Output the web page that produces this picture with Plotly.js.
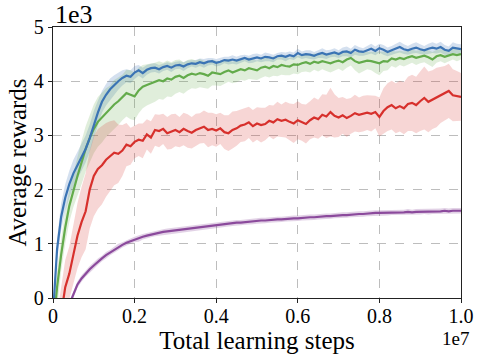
<!DOCTYPE html>
<html>
<head>
<meta charset="utf-8">
<script src="https://cdn.plot.ly/plotly-3.0.1.min.js"></script>
<style>
  html, body { margin: 0; padding: 0; background: #fff; }
  #chart { width: 483px; height: 361px; }
</style>
</head>
<body>
<div id="chart"></div>
<script>
// training steps, in units of 1e7
const steps = [];
for (let i = 0; i <= 100; i++) steps.push(i / 100);

// average rewards, in units of 1e3 (mean and half-width of shaded band)
const blueMean = [
  -0.3, 0.9, 1.5, 1.85, 2.1, 2.3, 2.45, 2.6, 2.75, 2.95,
  3.2, 3.42, 3.62, 3.75, 3.85, 3.93, 4.0, 4.06, 4.1, 4.08,
  4.16, 4.2, 4.15, 4.21, 4.24, 4.25, 4.22, 4.26, 4.28, 4.25,
  4.29, 4.3, 4.27, 4.31, 4.33, 4.32, 4.35, 4.33, 4.36, 4.37,
  4.34, 4.36, 4.39, 4.38, 4.4, 4.38, 4.41, 4.43, 4.4, 4.42,
  4.44, 4.42, 4.45, 4.44, 4.42, 4.46, 4.47, 4.45, 4.48, 4.46,
  4.52, 4.48, 4.5, 4.49, 4.47, 4.5, 4.52, 4.49, 4.51, 4.53,
  4.5, 4.54, 4.55, 4.52, 4.58, 4.55, 4.54, 4.57, 4.6, 4.56,
  4.61, 4.58, 4.54, 4.57, 4.6, 4.63, 4.59, 4.57, 4.6, 4.62,
  4.59, 4.57, 4.6, 4.62, 4.6, 4.63, 4.58, 4.56, 4.62, 4.6,
  4.59
];
const blueSpread = [
  0.1, 0.2, 0.25, 0.25, 0.25, 0.25, 0.25, 0.25, 0.25, 0.25,
  0.25, 0.22, 0.2, 0.2, 0.2, 0.18, 0.16, 0.14, 0.12, 0.12,
  0.12, 0.1, 0.1, 0.09, 0.08, 0.08, 0.08, 0.07, 0.07, 0.08,
  0.07, 0.07, 0.08, 0.07, 0.06, 0.07, 0.07, 0.08, 0.07, 0.06,
  0.07, 0.07, 0.06, 0.07, 0.08, 0.07, 0.07, 0.06, 0.07, 0.08,
  0.07, 0.07, 0.08, 0.07, 0.07, 0.06, 0.07, 0.08, 0.07, 0.07,
  0.08, 0.07, 0.07, 0.08, 0.07, 0.07, 0.09, 0.08, 0.07, 0.08,
  0.07, 0.08, 0.09, 0.08, 0.09, 0.08, 0.07, 0.08, 0.09, 0.08,
  0.08, 0.09, 0.08, 0.08, 0.09, 0.1, 0.09, 0.08, 0.09, 0.1,
  0.09, 0.08, 0.09, 0.1, 0.09, 0.1, 0.09, 0.08, 0.1, 0.09,
  0.09
];

const greenMean = [
  -0.6, 0.2, 0.8, 1.3, 1.7, 2.0, 2.25, 2.5, 2.75, 2.95,
  3.12, 3.25, 3.33, 3.42, 3.48, 3.57, 3.63, 3.7, 3.78, 3.75,
  3.72, 3.83, 3.9, 3.93, 3.96, 3.98, 4.02, 4.0, 4.05, 4.03,
  4.08, 4.1, 4.06, 4.11, 4.14, 4.12, 4.15, 4.13, 4.1, 4.16,
  4.15, 4.13, 4.17, 4.2, 4.16, 4.19, 4.22, 4.2, 4.24, 4.22,
  4.2, 4.25, 4.27, 4.24, 4.28, 4.26, 4.3, 4.28, 4.27, 4.31,
  4.3, 4.33, 4.35, 4.32, 4.36, 4.34, 4.37, 4.35, 4.33, 4.36,
  4.38, 4.35, 4.4, 4.43, 4.37, 4.34, 4.36, 4.38, 4.37, 4.35,
  4.33, 4.37, 4.36, 4.42, 4.4, 4.43, 4.41, 4.44, 4.46, 4.43,
  4.45, 4.47, 4.44, 4.4, 4.46, 4.48, 4.45, 4.47, 4.5, 4.48,
  4.5
];
const greenSpread = [
  0.3, 0.3, 0.3, 0.3, 0.3, 0.32, 0.36, 0.4, 0.42, 0.44,
  0.45, 0.46, 0.46, 0.45, 0.44, 0.45, 0.44, 0.42, 0.43, 0.45,
  0.44, 0.42, 0.4, 0.38, 0.37, 0.36, 0.35, 0.34, 0.33, 0.32,
  0.31, 0.3, 0.29, 0.28, 0.27, 0.26, 0.26, 0.25, 0.24, 0.24,
  0.23, 0.22, 0.22, 0.21, 0.2, 0.21, 0.2, 0.19, 0.2, 0.19,
  0.18, 0.19, 0.18, 0.17, 0.18, 0.17, 0.18, 0.17, 0.16, 0.17,
  0.17, 0.16, 0.17, 0.16, 0.15, 0.16, 0.15, 0.16, 0.17, 0.16,
  0.15, 0.16, 0.15, 0.14, 0.17, 0.2, 0.18, 0.16, 0.17, 0.2,
  0.22, 0.18, 0.16, 0.14, 0.15, 0.13, 0.14, 0.13, 0.12, 0.13,
  0.12, 0.12, 0.13, 0.14, 0.12, 0.11, 0.12, 0.11, 0.1, 0.11,
  0.1
];

const redMean = [
  -1.2, -0.8, -0.3, 0.2, 0.45, 0.8, 1.15, 1.4, 1.6, 2.0,
  2.25, 2.38, 2.45, 2.55, 2.62, 2.68, 2.66, 2.72, 2.83, 2.8,
  2.88, 2.92, 2.9, 3.02, 2.96, 3.1, 3.08, 3.12, 3.04, 3.07,
  3.1, 3.06, 3.12, 3.08, 3.05, 3.1, 3.13, 3.16, 3.1, 3.12,
  3.09, 3.13, 3.06, 3.04, 3.1, 3.13, 3.18, 3.2, 3.24, 3.17,
  3.22, 3.19, 3.21, 3.27, 3.24, 3.3, 3.27, 3.29, 3.25, 3.22,
  3.28, 3.24, 3.21, 3.28, 3.33, 3.3, 3.38, 3.35, 3.43, 3.36,
  3.33, 3.37, 3.32, 3.36, 3.41, 3.38, 3.4, 3.42, 3.4, 3.43,
  3.34, 3.45, 3.52, 3.56, 3.5, 3.54, 3.5, 3.58, 3.6, 3.56,
  3.63, 3.69, 3.62, 3.66, 3.7, 3.75, 3.78, 3.82, 3.74, 3.73,
  3.71
];
const redSpread = [
  0.5, 0.5, 0.5, 0.5, 0.5, 0.55, 0.6, 0.65, 0.7, 0.72,
  0.74, 0.74, 0.72, 0.68, 0.64, 0.6, 0.54, 0.47, 0.4, 0.34,
  0.3, 0.3, 0.32, 0.28, 0.3, 0.29, 0.3, 0.28, 0.3, 0.32,
  0.3, 0.28, 0.3, 0.31, 0.29, 0.3, 0.28, 0.3, 0.32, 0.3,
  0.3, 0.29, 0.31, 0.33, 0.34, 0.32, 0.3, 0.31, 0.29, 0.3,
  0.3, 0.32, 0.3, 0.29, 0.31, 0.32, 0.3, 0.33, 0.34, 0.36,
  0.35, 0.34, 0.36, 0.35, 0.37, 0.36, 0.38, 0.4, 0.45, 0.4,
  0.36, 0.34, 0.35, 0.33, 0.34, 0.32, 0.33, 0.32, 0.33, 0.3,
  0.36, 0.42, 0.44, 0.45, 0.46, 0.47, 0.48, 0.5, 0.52, 0.52,
  0.55, 0.58, 0.56, 0.54, 0.55, 0.52, 0.5, 0.5, 0.48, 0.46,
  0.44
];

const purpleMean = [
  -1.2, -0.9, -0.6, -0.35, -0.12, 0.07, 0.25, 0.36, 0.45, 0.53,
  0.6, 0.67, 0.73, 0.79, 0.84, 0.89, 0.94, 0.98, 1.02, 1.05,
  1.08, 1.1, 1.13, 1.15, 1.17, 1.19, 1.2, 1.22, 1.23, 1.24,
  1.25, 1.26, 1.27, 1.28, 1.29, 1.3, 1.31, 1.32, 1.33, 1.34,
  1.35, 1.36, 1.36, 1.37, 1.38, 1.39, 1.39, 1.4, 1.41, 1.41,
  1.42, 1.43, 1.43, 1.44, 1.44, 1.45, 1.45, 1.46, 1.46, 1.47,
  1.47, 1.48, 1.48, 1.49, 1.49, 1.5, 1.5, 1.51, 1.51, 1.52,
  1.52, 1.53, 1.53, 1.54, 1.54, 1.55, 1.55, 1.56, 1.56, 1.57,
  1.57, 1.57, 1.57, 1.58, 1.58, 1.58, 1.58, 1.59, 1.58, 1.59,
  1.59, 1.6, 1.59, 1.6, 1.6, 1.6, 1.61, 1.6, 1.61, 1.61,
  1.61
];
const purpleSpread = [
  0.06, 0.06, 0.06, 0.06, 0.06, 0.06, 0.06, 0.06, 0.06, 0.06,
  0.06, 0.06, 0.05, 0.06, 0.05, 0.05, 0.06, 0.05, 0.05, 0.05,
  0.05, 0.06, 0.05, 0.05, 0.05, 0.05, 0.05, 0.05, 0.05, 0.05,
  0.05, 0.05, 0.05, 0.05, 0.05, 0.05, 0.05, 0.05, 0.05, 0.05,
  0.05, 0.05, 0.05, 0.05, 0.05, 0.05, 0.05, 0.05, 0.05, 0.05,
  0.05, 0.05, 0.05, 0.05, 0.05, 0.05, 0.05, 0.05, 0.05, 0.05,
  0.05, 0.05, 0.05, 0.05, 0.05, 0.05, 0.05, 0.05, 0.05, 0.05,
  0.05, 0.05, 0.05, 0.05, 0.05, 0.05, 0.05, 0.05, 0.05, 0.05,
  0.05, 0.05, 0.05, 0.05, 0.05, 0.05, 0.05, 0.05, 0.05, 0.05,
  0.05, 0.05, 0.05, 0.05, 0.05, 0.05, 0.05, 0.05, 0.05, 0.05,
  0.05
];

const series = [
  { mean: blueMean, spread: blueSpread, color: '#3b74b4', fill: 'rgba(59,116,180,0.22)' },
  { mean: greenMean, spread: greenSpread, color: '#63ab4b', fill: 'rgba(99,171,75,0.2)' },
  { mean: redMean, spread: redSpread, color: '#d7302c', fill: 'rgba(215,48,44,0.2)' },
  { mean: purpleMean, spread: purpleSpread, color: '#8b4a9c', fill: 'rgba(139,74,156,0.25)' }
];

function band(s) {
  const upper = s.mean.map((m, i) => m + s.spread[i]);
  const lower = s.mean.map((m, i) => m - s.spread[i]);
  return {
    x: steps.concat(steps.slice().reverse()),
    y: upper.concat(lower.reverse()),
    type: 'scatter',
    mode: 'lines',
    fill: 'toself',
    fillcolor: s.fill,
    line: { width: 0 },
    hoverinfo: 'skip',
    showlegend: false
  };
}

function meanLine(s) {
  return {
    x: steps,
    y: s.mean,
    type: 'scatter',
    mode: 'lines',
    line: { color: s.color, width: 2.2 },
    showlegend: false
  };
}

const traces = [];
series.forEach(s => traces.push(band(s)));
series.slice().reverse().forEach(s => traces.push(meanLine(s)));

const serif = '"Liberation Serif", serif';

const layout = {
  width: 483,
  height: 361,
  margin: { l: 53, r: 22, t: 27, b: 63 },
  paper_bgcolor: '#fff',
  plot_bgcolor: '#fff',
  showlegend: false,
  font: { family: serif, color: '#000' },
  xaxis: {
    range: [0, 1],
    tickvals: [0, 0.2, 0.4, 0.6, 0.8, 1.0],
    ticktext: ['0', '0.2', '0.4', '0.6', '0.8', '1.0'],
    tickfont: { size: 20, family: serif },
    ticks: 'outside',
    ticklen: 4,
    tickcolor: '#222',
    ticklabelstandoff: -4,
    showline: true,
    linecolor: '#222',
    linewidth: 1.2,
    mirror: true,
    showgrid: true,
    gridcolor: '#bdbdbd',
    griddash: 'dash',
    gridwidth: 1,
    zeroline: false,
    title: { text: 'Total learning steps', font: { size: 25, family: serif }, standoff: 0 }
  },
  yaxis: {
    range: [0, 5],
    tickvals: [0, 1, 2, 3, 4, 5],
    tickfont: { size: 20, family: serif },
    ticks: 'outside',
    ticklen: 4,
    tickcolor: '#222',
    showline: true,
    linecolor: '#222',
    linewidth: 1.2,
    mirror: true,
    showgrid: true,
    gridcolor: '#bdbdbd',
    griddash: 'dash',
    gridwidth: 1,
    zeroline: false,
    title: { text: 'Average rewards', font: { size: 25, family: serif }, standoff: 0 }
  },
  annotations: [
    { text: '1e3', xref: 'paper', yref: 'paper', x: 0, y: 1, xanchor: 'left', yanchor: 'bottom',
      showarrow: false, font: { size: 26, family: serif }, yshift: -4 },
    { text: '1e7', xref: 'paper', yref: 'paper', x: 1.025, y: 0, xanchor: 'right', yanchor: 'top',
      showarrow: false, font: { size: 19, family: serif }, yshift: -28 }
  ]
};

Plotly.newPlot('chart', traces, layout, { displayModeBar: false, staticPlot: true });
</script>
</body>
</html>
